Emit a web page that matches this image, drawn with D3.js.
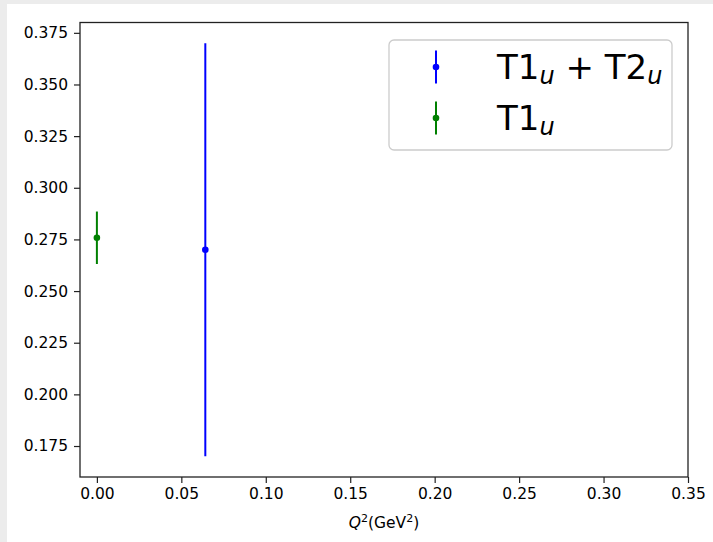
<!DOCTYPE html>
<meta charset="utf-8">
<style>
  body { margin: 0; background: #ececec; }
  text { font-family: "DejaVu Sans", sans-serif; fill: #000; }
</style>
<svg width="713" height="542"></svg>
<script src="https://d3js.org/d3.v7.min.js"></script>
<script>
// data
var seriesNames = ["T1u+T2u", "T1u"];
var seriesColors = ["#0000ff", "#008000"];
var q2 = [0.0642, 0.0];
var values = [0.270, 0.2758];
var errors = [0.100, 0.0127];
var xTicks = [0, 0.05, 0.10, 0.15, 0.20, 0.25, 0.30, 0.35];
var yTicks = [0.175, 0.200, 0.225, 0.250, 0.275, 0.300, 0.325, 0.350, 0.375];

var svg = d3.select("svg");
var W = 713, H = 542;
var L = 80, R = 688, T = 22.5, B = 477;

// background: grey strip round a white figure
svg.append("rect").attr("width", W).attr("height", H).attr("fill", "#ececec");
svg.append("rect").attr("x", 7).attr("y", 4).attr("width", W - 7).attr("height", H - 4).attr("fill", "#fff");

var x = d3.scaleLinear().domain([-0.01, 0.35]).range([L, R]);
var y = d3.scaleLinear().domain([0.16, 0.38]).range([B, T]);

// axes
var xAxis = svg.append("g").attr("transform", "translate(0," + B + ")")
  .call(d3.axisBottom(x).tickValues(xTicks).tickFormat(d3.format(".2f")).tickSizeOuter(0).tickSize(6).tickPadding(5));
var yAxis = svg.append("g").attr("transform", "translate(" + L + ",0)")
  .call(d3.axisLeft(y).tickValues(yTicks).tickFormat(d3.format(".3f")).tickSizeOuter(0).tickSize(6).tickPadding(6));
[xAxis, yAxis].forEach(function(g) {
  g.select(".domain").remove();
  g.selectAll(".tick line").attr("stroke", "#222").attr("stroke-width", 1.2);
  g.selectAll(".tick text").attr("font-size", 15.5).attr("fill", "#000")
    .style("font-family", "DejaVu Sans, sans-serif");
});

// frame
svg.append("rect").attr("x", L).attr("y", T).attr("width", R - L).attr("height", B - T)
  .attr("fill", "none").attr("stroke", "#222").attr("stroke-width", 1.3);

// error bars
var pts = q2.map(function(d, i) { return {x: d, y: values[i], e: errors[i], c: seriesColors[i]}; });
var eb = svg.append("g").selectAll("g").data(pts).join("g");
eb.append("line")
  .attr("x1", function(d) { return x(d.x); }).attr("x2", function(d) { return x(d.x); })
  .attr("y1", function(d) { return y(d.y - d.e); }).attr("y2", function(d) { return y(d.y + d.e); })
  .attr("stroke", function(d) { return d.c; }).attr("stroke-width", 2);
eb.append("circle")
  .attr("cx", function(d) { return x(d.x); }).attr("cy", function(d) { return y(d.y); })
  .attr("r", 3.3).attr("fill", function(d) { return d.c; });

// x label
var xl = svg.append("text").attr("x", (L + R) / 2).attr("y", 528)
  .attr("text-anchor", "middle").attr("font-size", 15.5);
xl.append("tspan").attr("font-style", "italic").text("Q");
xl.append("tspan").attr("font-size", 11).attr("dy", -6).text("2");
xl.append("tspan").attr("dy", 6).text("(GeV");
xl.append("tspan").attr("font-size", 11).attr("dy", -6).text("2");
xl.append("tspan").attr("dy", 6).text(")");

// legend
var lg = svg.append("g");
lg.append("rect").attr("x", 389).attr("y", 40).attr("width", 283).attr("height", 110).attr("rx", 5)
  .attr("fill", "#fff").attr("fill-opacity", 0.8).attr("stroke", "#cccccc").attr("stroke-width", 1.3);
var rowsY = [67, 118];
seriesNames.forEach(function(name, i) {
  var cy = rowsY[i];
  lg.append("line").attr("x1", 436).attr("x2", 436).attr("y1", cy - 16.5).attr("y2", cy + 16.5)
    .attr("stroke", seriesColors[i]).attr("stroke-width", 2);
  lg.append("circle").attr("cx", 436).attr("cy", cy).attr("r", 3.3).attr("fill", seriesColors[i]);
  var t = lg.append("text").attr("x", 497).attr("y", cy + 12).attr("font-size", 34);
  t.append("tspan").text("T1");
  t.append("tspan").attr("font-style", "italic").attr("font-size", 24).attr("dy", 5).text("u");
  if (i === 0) {
    t.append("tspan").attr("dy", -5).text(" + T2");
    t.append("tspan").attr("font-style", "italic").attr("font-size", 24).attr("dy", 5).text("u");
  }
});
</script>
